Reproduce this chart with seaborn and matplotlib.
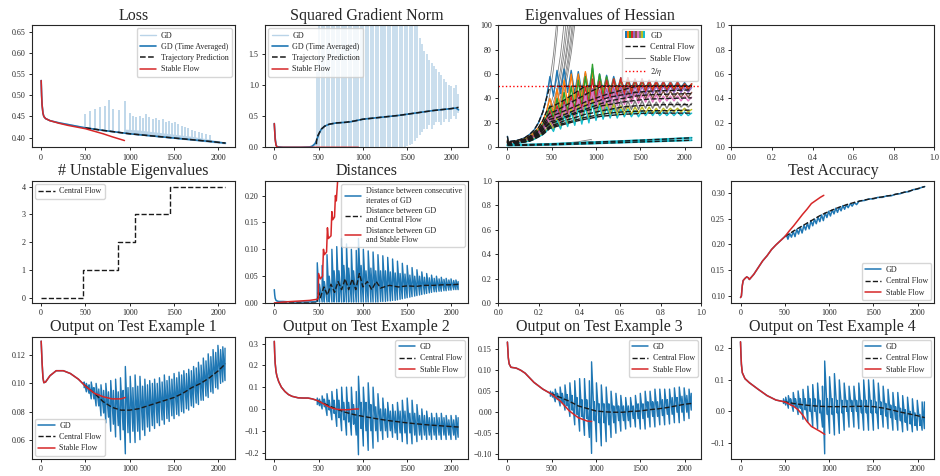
import matplotlib
matplotlib.use("Agg")
import matplotlib.pyplot as plt
import seaborn as sns
from matplotlib.legend_handler import HandlerBase
from matplotlib.patches import Rectangle
from matplotlib.lines import Line2D

# ----------------------------------------------------------------- data
STEPS = [485, 510, 540, 565, 595, 620, 650, 675, 705, 730, 760, 785, 815, 840, 870, 895, 925, 950, 980, 1005,
         1035, 1060, 1090, 1115, 1145, 1170, 1200, 1225, 1255, 1280, 1310, 1335, 1365, 1390, 1420, 1445, 1475, 1500, 1530, 1555,
         1585, 1610, 1640, 1665, 1695, 1720, 1750, 1775, 1805, 1830, 1860, 1885, 1915, 1940, 1970, 1995, 2025, 2050, 2075]

# Loss
loss_gd_x = [0, 5, 10, 20, 30, 50, 100, 200, 300, 400, 500, 700, 1000, 1300, 1600, 1900, 2080]
loss_gd_y = [0.535, 0.50, 0.478, 0.458, 0.450, 0.445, 0.440, 0.435, 0.431, 0.427, 0.423, 0.417, 0.409, 0.403, 0.396, 0.390, 0.386]
loss_avg_y = [0.535, 0.50, 0.478, 0.458, 0.450, 0.445, 0.440, 0.435, 0.431, 0.427, 0.423, 0.417, 0.409, 0.403, 0.397, 0.391, 0.387]
loss_traj_x = [500, 700, 1000, 1300, 1600, 1900, 2080]
loss_traj_y = [0.423, 0.417, 0.409, 0.403, 0.397, 0.391, 0.387]
loss_sf_x = [0, 5, 10, 20, 30, 50, 100, 200, 300, 400, 500, 600, 700, 800, 940]
loss_sf_y = [0.535, 0.50, 0.478, 0.458, 0.450, 0.445, 0.440, 0.434, 0.429, 0.425, 0.421, 0.415, 0.409, 0.402, 0.393]
loss_spike_x = [498, 547, 603, 659, 715, 760, 816, 873, 948, 1004, 1040, 1075, 1110, 1150, 1185, 1220, 1260, 1295, 1330, 1370,
                1405, 1440, 1480, 1515, 1550, 1590, 1625, 1660, 1700, 1740, 1780, 1820, 1860, 1900]
loss_spike_hi = [0.457, 0.464, 0.468, 0.472, 0.474, 0.488, 0.467, 0.466, 0.486, 0.459, 0.452, 0.448, 0.452, 0.447, 0.455, 0.449, 0.445, 0.447, 0.441, 0.443,
                 0.438, 0.440, 0.434, 0.437, 0.431, 0.428, 0.424, 0.422, 0.419, 0.416, 0.413, 0.411, 0.408, 0.405]
loss_spike_lo = [0.423, 0.421, 0.420, 0.418, 0.417, 0.416, 0.414, 0.413, 0.411, 0.409, 0.408, 0.407, 0.406, 0.405, 0.405, 0.404, 0.403, 0.402, 0.402, 0.401,
                 0.400, 0.399, 0.399, 0.398, 0.397, 0.396, 0.396, 0.395, 0.394, 0.393, 0.393, 0.392, 0.391, 0.390]
loss_band_x = [950, 1100, 1300, 1500, 1700, 1900, 2080]
loss_band_lo = [0.409, 0.406, 0.402, 0.398, 0.394, 0.389, 0.385]
loss_band_hi = [0.420, 0.418, 0.413, 0.408, 0.403, 0.396, 0.389]

# Squared gradient norm
gn_gd_x = [0, 5, 10, 20, 30, 50, 300, 400, 450, 485]
gn_gd_y = [0.38, 0.25, 0.12, 0.04, 0.01, 0.0, 0.0, 0.003, 0.02, 0.06]
gn_hi = [1.2, 2.5, 2.5, 2.5, 2.5, 2.5, 2.5, 2.5, 2.5, 2.5, 2.5, 2.5, 2.5, 2.5, 2.5, 2.5, 2.5, 2.5, 2.5, 2.5,
         2.5, 2.5, 2.5, 2.5, 2.5, 2.5, 2.5, 2.5, 2.5, 2.5, 2.5, 2.5, 2.5, 2.5, 2.5, 2.5, 2.5, 2.5, 2.5, 2.5,
         2.5, 2.5, 1.75, 1.65, 1.55, 1.5, 1.4, 1.35, 1.3, 1.25, 1.2, 1.15, 1.1, 1.05, 1.0, 0.98, 0.95, 1.0, 0.85]
gn_lo = [0, 0, 0, 0, 0, 0, 0, 0, 0, 0, 0, 0, 0, 0, 0, 0, 0, 0, 0, 0,
         0, 0, 0, 0, 0, 0, 0, 0, 0, 0, 0, 0, 0, 0, 0, 0, 0, 0.02, 0.04, 0.06,
         0.1, 0.15, 0.2, 0.25, 0.3, 0.3, 0.35, 0.3, 0.35, 0.4, 0.4, 0.35, 0.4, 0.45, 0.4, 0.45, 0.5, 0.45, 0.55]
gn_avg_x = [0, 10, 20, 30, 100, 300, 400, 430, 460, 480, 500, 530, 570, 620, 700, 800, 850, 900, 1000, 1200, 1400, 1600, 1800, 2000, 2050, 2080]
gn_avg_y = [0.38, 0.15, 0.04, 0.01, 0.0, 0.0, 0.005, 0.02, 0.06, 0.12, 0.2, 0.29, 0.34, 0.37, 0.39, 0.40, 0.405, 0.42, 0.45, 0.48, 0.51, 0.55, 0.59, 0.62, 0.63, 0.60]
gn_traj_x = [475, 480, 500, 530, 570, 620, 700, 800, 850, 900, 1000, 1200, 1400, 1600, 1800, 2000, 2080]
gn_traj_y = [0.05, 0.15, 0.21, 0.29, 0.34, 0.37, 0.39, 0.40, 0.41, 0.42, 0.45, 0.48, 0.51, 0.55, 0.59, 0.62, 0.64]
gn_sf_x = [0, 5, 10, 20, 30, 50, 950]
gn_sf_y = [0.38, 0.25, 0.12, 0.03, 0.008, 0.0, 0.0]

# Eigenvalues of Hessian
eig_pre_x = [0, 10, 50, 100, 150, 200, 250, 300, 350, 400]
eig_zz_x = [440, 480, 520, 560, 600, 640, 680, 720, 760, 800, 840, 880, 920, 960, 1000, 1040, 1080, 1120, 1160, 1200, 1240,
            1280, 1320, 1360, 1400, 1440, 1480, 1520, 1560, 1600, 1640, 1680, 1720, 1760, 1800, 1840, 1880, 1920, 1960, 2000, 2040, 2080]
eig_pre = [
    [9, 4.5, 5, 5.5, 6.5, 8, 10.5, 14, 20, 29],
    [6, 4, 4.5, 5, 6, 7, 9, 12, 16, 22],
    [5, 3.5, 4, 4.5, 5.5, 6.5, 8, 10.5, 14, 19],
    [5, 3.5, 4, 4.5, 5, 6, 7.5, 10, 13, 17],
    [4.5, 3, 3.5, 4, 5, 5.5, 7, 9, 12, 16],
    [4.5, 3, 3.5, 4, 4.5, 5.5, 6.5, 8.5, 11, 14.5],
    [4, 3, 3.2, 3.8, 4.5, 5, 6, 8, 10.5, 14],
    [4, 2.8, 3, 3.5, 4, 5, 6, 7.5, 10, 12.5],
    [3.5, 2.5, 3, 3.5, 4, 4.5, 5.5, 7, 9, 11.5],
    [3.5, 2.5, 2.8, 3.2, 3.8, 4.5, 5, 6.5, 8.5, 10.5],
]
eig_zz = [
    [40, 58, 42, 63, 44, 64, 45, 63, 44, 62, 45, 61, 46, 65, 44, 60, 46, 59, 46, 58, 47, 57, 47, 57, 48, 56, 48, 56, 48, 55, 48, 55, 49, 54, 49, 54, 49, 54, 49, 53, 49, 52],
    [29, 40, 28, 48, 30, 55, 35, 60, 38, 60, 40, 62, 42, 62, 43, 58, 45, 57, 45, 56, 46, 56, 46, 55, 47, 55, 47, 55, 47, 54, 48, 54, 48, 53, 48, 53, 48, 53, 48, 52, 48, 52],
    [25, 34, 24, 40, 27, 45, 29, 50, 31, 55, 34, 58, 36, 68, 38, 60, 42, 58, 43, 56, 44, 55, 45, 55, 45, 54, 46, 54, 46, 53, 46, 53, 47, 53, 47, 52, 47, 52, 47, 52, 47, 51],
    [22, 30, 21, 34, 24, 38, 26, 42, 29, 46, 31, 50, 33, 56, 36, 54, 38, 55, 40, 56, 42, 57, 43, 57, 44, 56, 45, 56, 45, 55, 46, 54, 46, 54, 46, 53, 46, 53, 47, 52, 47, 52],
    [20, 27, 19, 31, 22, 35, 24, 38, 26, 41, 28, 44, 30, 48, 33, 47, 35, 48, 37, 49, 39, 50, 40, 50, 41, 50, 42, 50, 43, 50, 44, 50, 44, 50, 45, 50, 45, 49, 45, 49, 45, 49],
    [18, 25, 17, 28, 20, 32, 22, 35, 24, 38, 26, 40, 28, 44, 30, 43, 32, 44, 34, 45, 36, 46, 37, 46, 38, 46, 39, 46, 40, 46, 40, 46, 41, 46, 41, 46, 41, 45, 41, 45, 41, 45],
    [17, 24, 16, 28, 19, 33, 21, 37, 23, 40, 25, 42, 27, 46, 29, 44, 31, 44, 32, 44, 34, 44, 35, 44, 36, 44, 36, 43, 37, 43, 37, 43, 37, 42, 38, 42, 38, 42, 38, 42, 38, 41],
    [15, 21, 15, 25, 17, 28, 19, 31, 21, 34, 22, 36, 24, 39, 26, 38, 27, 38, 28, 38, 29, 38, 30, 38, 31, 38, 31, 38, 32, 38, 32, 37, 32, 37, 32, 37, 33, 37, 33, 36, 33, 36],
    [14, 20, 14, 24, 16, 28, 18, 32, 19, 35, 21, 37, 22, 40, 24, 37, 25, 36, 26, 35, 26, 34, 27, 34, 27, 33, 28, 33, 28, 33, 28, 32, 28, 32, 29, 32, 29, 32, 29, 32, 29, 31],
    [13, 18, 13, 22, 15, 26, 17, 29, 18, 32, 19, 33, 20, 36, 22, 34, 23, 33, 24, 32, 24, 31, 25, 31, 25, 30, 25, 30, 26, 30, 26, 30, 26, 29, 26, 29, 26, 29, 26, 29, 26, 28],
]
cf_post_x = [480, 550, 650, 750, 875, 950, 1065, 1150, 1300, 1450, 1600, 1800, 2080]
cf_post = [
    [50, 50, 50, 50, 50, 50, 50, 50, 50, 50, 50, 50, 50],
    [33, 35, 39, 44, 50, 50, 50, 50, 50, 50, 50, 50, 50],
    [28, 30, 34, 38, 43, 46, 50, 50, 50, 50, 50, 50, 50],
    [25, 27, 30, 33, 37, 39, 42, 44, 47, 50, 50, 50, 50],
    [23, 24, 27, 30, 34, 36, 39, 41, 43, 45, 46, 46.5, 47],
    [21, 22, 25, 28, 31, 33, 36, 38, 40, 42, 43, 43.5, 44],
    [19.5, 21, 24, 27, 30, 31, 34, 35, 37, 38.5, 39.5, 40, 40.5],
    [17.5, 19, 22, 24, 27, 28, 30, 31, 33, 34, 34.5, 35, 35],
    [16.5, 18, 20, 22, 24.5, 25.5, 27, 28, 29, 29.5, 30, 30, 30.5],
    [15.5, 17, 19, 21, 23, 24, 25.5, 26, 27, 27.5, 28, 28, 28],
]
sf_post_x = [480, 520, 560, 600, 640, 680, 720, 760, 800, 840]
sf_post = [
    [55, 76, 105, 140, 180, 230, 280, 330, 380, 430],
    [44, 64, 92, 128, 170, 220, 270, 320, 370, 420],
    [33, 43, 57, 76, 102, 135, 175, 220, 270, 320],
    [29, 37, 48, 64, 86, 115, 150, 190, 235, 285],
    [26, 33, 43, 57, 76, 100, 130, 165, 205, 250],
    [23, 29, 38, 50, 66, 87, 114, 148, 188, 230],
    [22, 28, 36, 47, 62, 81, 105, 136, 172, 215],
    [19, 24, 31, 41, 54, 71, 93, 121, 156, 197],
    [17.5, 22, 29, 38, 50, 65, 85, 110, 142, 180],
    [16, 20, 26, 34, 45, 59, 77, 100, 129, 165],
]
eig_low_x = [0, 250, 500, 750, 1000, 1250, 1500, 1750, 2080]
eig_low1 = [2.0, 2.3, 2.8, 3.5, 4.3, 5.0, 5.8, 6.6, 7.8]
eig_low2 = [1.5, 1.7, 2.1, 2.6, 3.2, 3.8, 4.4, 5.0, 5.8]
sf_low_x = [0, 250, 500, 650, 800, 950]
sf_low1 = [2.0, 2.3, 2.8, 3.5, 4.6, 6.5]
sf_low2 = [1.5, 1.7, 2.1, 2.7, 3.6, 5.0]
two_over_eta = 50

# Unstable eigenvalues
unst_x = [0, 467, 871, 1060, 1450, 2075]
unst_y = [0, 1, 2, 3, 4, 4]

# Distances
dist_gd_x = [0, 5, 10, 20, 30, 50, 100, 200, 300, 400, 480]
dist_gd_y = [0.025, 0.015, 0.009, 0.005, 0.004, 0.003, 0.003, 0.002, 0.002, 0.002, 0.003]
dist_hi = [0.075, 0.035, 0.07, 0.04, 0.09, 0.05, 0.10, 0.06, 0.105, 0.06, 0.12, 0.07, 0.11, 0.065, 0.10, 0.06, 0.098, 0.12, 0.07, 0.10,
           0.06, 0.097, 0.065, 0.095, 0.06, 0.09, 0.06, 0.088, 0.06, 0.085, 0.058, 0.082, 0.056, 0.078, 0.055, 0.074, 0.054, 0.07, 0.052, 0.066,
           0.05, 0.062, 0.05, 0.058, 0.048, 0.055, 0.047, 0.052, 0.046, 0.05, 0.045, 0.048, 0.044, 0.046, 0.043, 0.045, 0.042, 0.043, 0.04]
dist_lo = [0.003, 0.002, 0.002, 0.002, 0.002, 0.002, 0.002, 0.002, 0.002, 0.002, 0.002, 0.002, 0.002, 0.002, 0.002, 0.002, 0.002, 0.002, 0.002, 0.002,
           0.002, 0.002, 0.002, 0.002, 0.002, 0.002, 0.003, 0.003, 0.003, 0.004, 0.004, 0.005, 0.005, 0.006, 0.007, 0.008, 0.009, 0.010, 0.011, 0.012,
           0.013, 0.014, 0.015, 0.016, 0.017, 0.018, 0.019, 0.020, 0.021, 0.021, 0.022, 0.022, 0.023, 0.023, 0.024, 0.024, 0.025, 0.025, 0.025]
dist_cf_x = [0, 480, 500, 520, 560, 600, 640, 680, 720, 760, 800, 840, 880, 920, 960, 1000, 1050, 1100, 1150, 1200, 1300, 1400, 1500, 1600, 1700, 1800, 1900, 2000, 2080]
dist_cf_y = [0, 0.0, 0.02, 0.01, 0.03, 0.015, 0.035, 0.02, 0.04, 0.025, 0.045, 0.025, 0.045, 0.025, 0.055, 0.03, 0.04, 0.025, 0.04, 0.028, 0.033, 0.03, 0.032, 0.031, 0.033, 0.033, 0.034, 0.034, 0.035]
dist_sf_x = [0, 100, 200, 300, 400, 480, 495, 500, 520, 545, 555, 565, 590, 600, 610, 640, 650, 660, 680, 690, 700, 720]
dist_sf_y = [0.0, 0.002, 0.003, 0.004, 0.005, 0.007, 0.008, 0.055, 0.045, 0.05, 0.10, 0.09, 0.095, 0.14, 0.12, 0.125, 0.17, 0.155, 0.16, 0.20, 0.19, 0.24]

# Test accuracy
acc_sf_x = [0, 10, 20, 30, 50, 70, 90, 100, 120, 150, 200, 250, 300, 350, 400, 450, 500, 550, 600, 650, 700, 750, 800, 850, 900, 940]
acc_sf_y = [0.097, 0.100, 0.120, 0.130, 0.134, 0.137, 0.135, 0.132, 0.136, 0.142, 0.155, 0.168, 0.178, 0.190, 0.199, 0.207, 0.215,
            0.226, 0.236, 0.247, 0.258, 0.268, 0.279, 0.285, 0.291, 0.295]
acc_gd_x = [0, 10, 20, 30, 50, 70, 90, 100, 120, 150, 200, 250, 300, 350, 400, 450, 500,
            520, 535, 555, 575, 595, 615, 635, 655, 675, 695, 715, 735, 755, 775, 795, 815, 835, 855, 875, 895,
            915, 935, 955, 975, 995, 1015, 1035, 1055, 1075, 1095, 1115, 1135, 1155, 1175, 1195, 1215, 1240, 1260, 1285, 1310,
            1340, 1400, 1450, 1500, 1550, 1600, 1650, 1700, 1750, 1800, 1850, 1900, 1950, 2000, 2040, 2080]
acc_gd_y = [0.097, 0.100, 0.120, 0.130, 0.134, 0.137, 0.135, 0.132, 0.136, 0.142, 0.155, 0.168, 0.178, 0.190, 0.199, 0.207, 0.215,
            0.218, 0.210, 0.221, 0.214, 0.225, 0.215, 0.229, 0.220, 0.233, 0.222, 0.237, 0.228, 0.241, 0.230, 0.246, 0.236, 0.249, 0.240, 0.253, 0.244,
            0.257, 0.246, 0.261, 0.252, 0.264, 0.255, 0.267, 0.259, 0.270, 0.262, 0.272, 0.265, 0.275, 0.268, 0.277, 0.271, 0.279, 0.274, 0.281, 0.277,
            0.284, 0.285, 0.288, 0.288, 0.291, 0.291, 0.294, 0.294, 0.297, 0.298, 0.301, 0.302, 0.306, 0.307, 0.310, 0.312]
acc_cf_x = [500, 600, 700, 800, 900, 1000, 1100, 1200, 1300, 1400, 1500, 1600, 1700, 1800, 1900, 2000, 2080]
acc_cf_y = [0.215, 0.226, 0.236, 0.246, 0.256, 0.264, 0.271, 0.277, 0.282, 0.286, 0.289, 0.292, 0.295, 0.299, 0.303, 0.308, 0.312]

# Outputs on test examples
cf_x = [485, 600, 700, 800, 900, 1000, 1100, 1200, 1300, 1400, 1500, 1600, 1700, 1800, 1900, 2000, 2080]
t1_sf_x = [0, 10, 20, 30, 50, 100, 170, 250, 330, 420, 500, 600, 700, 800, 900, 950]
t1_sf_y = [0.130, 0.115, 0.104, 0.1005, 0.101, 0.1055, 0.109, 0.109, 0.107, 0.103, 0.098, 0.093, 0.0905, 0.089, 0.089, 0.090]
t1_cf_y = [0.099, 0.093, 0.087, 0.083, 0.081, 0.081, 0.082, 0.084, 0.086, 0.088, 0.090, 0.093, 0.097, 0.100, 0.104, 0.109, 0.114]
t1_hi = [0.101, 0.100, 0.099, 0.101, 0.097, 0.100, 0.096, 0.099, 0.095, 0.100, 0.094, 0.102, 0.095, 0.103, 0.094, 0.104, 0.095, 0.112, 0.097, 0.105,
         0.097, 0.106, 0.098, 0.105, 0.098, 0.103, 0.099, 0.102, 0.100, 0.103, 0.100, 0.104, 0.101, 0.106, 0.102, 0.105, 0.103, 0.107, 0.104, 0.108,
         0.106, 0.109, 0.107, 0.110, 0.109, 0.112, 0.111, 0.115, 0.113, 0.118, 0.116, 0.121, 0.119, 0.124, 0.122, 0.127, 0.124, 0.126, 0.125]
t1_lo = [0.097, 0.094, 0.093, 0.089, 0.089, 0.084, 0.084, 0.077, 0.079, 0.072, 0.076, 0.066, 0.071, 0.062, 0.070, 0.060, 0.067, 0.050, 0.065, 0.058,
         0.066, 0.058, 0.066, 0.060, 0.067, 0.063, 0.069, 0.066, 0.070, 0.068, 0.072, 0.070, 0.074, 0.071, 0.075, 0.073, 0.077, 0.075, 0.078, 0.077,
         0.080, 0.079, 0.082, 0.081, 0.084, 0.083, 0.086, 0.085, 0.088, 0.088, 0.091, 0.090, 0.094, 0.093, 0.097, 0.096, 0.100, 0.101, 0.102]

t2_sf_x = [0, 5, 10, 20, 30, 50, 80, 120, 160, 200, 270, 330, 380, 430, 490, 550, 600, 650, 700, 750, 800, 850, 900, 950]
t2_sf_y = [0.31, 0.25, 0.21, 0.17, 0.15, 0.125, 0.10, 0.08, 0.066, 0.058, 0.051, 0.05, 0.05, 0.046, 0.038, 0.025, 0.013, 0.004, -0.001, -0.003, -0.004, -0.003, -0.001, 0.0]
t2_cf_y = [0.038, 0.018, 0.0, -0.015, -0.026, -0.034, -0.041, -0.048, -0.054, -0.059, -0.064, -0.068, -0.072, -0.075, -0.078, -0.081, -0.083]
t2_hi = [0.05, 0.045, 0.06, 0.045, 0.07, 0.04, 0.08, 0.04, 0.09, 0.04, 0.10, 0.03, 0.10, 0.03, 0.10, 0.02, 0.08, 0.15, 0.03, 0.10,
         0.03, 0.12, 0.02, 0.10, 0.01, 0.07, 0.0, 0.05, 0.0, 0.03, -0.01, 0.02, -0.01, 0.03, -0.01, 0.04, -0.01, 0.05, -0.02, 0.04,
         -0.02, 0.02, -0.03, 0.0, -0.03, -0.01, -0.04, -0.02, -0.04, -0.02, -0.04, -0.02, -0.04, -0.03, -0.05, -0.03, -0.05, -0.03, -0.04]
t2_lo = [0.02, 0.015, 0.0, 0.01, -0.03, -0.005, -0.05, -0.02, -0.08, -0.04, -0.10, -0.05, -0.12, -0.06, -0.12, -0.07, -0.12, -0.21, -0.09, -0.17,
         -0.10, -0.19, -0.10, -0.18, -0.10, -0.15, -0.10, -0.14, -0.10, -0.13, -0.10, -0.13, -0.11, -0.14, -0.11, -0.15, -0.11, -0.16, -0.11, -0.16,
         -0.12, -0.15, -0.12, -0.14, -0.12, -0.14, -0.12, -0.14, -0.12, -0.14, -0.12, -0.14, -0.12, -0.14, -0.12, -0.14, -0.12, -0.14, -0.13]

t3_sf_x = [0, 5, 10, 20, 40, 100, 150, 200, 300, 400, 500, 600, 700, 800, 900, 950]
t3_sf_y = [0.167, 0.15, 0.13, 0.115, 0.107, 0.105, 0.100, 0.093, 0.071, 0.055, 0.043, 0.026, 0.003, -0.013, -0.021, -0.022]
t3_cf_y = [0.045, 0.035, 0.026, 0.015, 0.009, 0.003, 0.001, 0.0, 0.0, 0.002, 0.003, 0.006, 0.008, 0.011, 0.015, 0.019, 0.021]
t3_hi = [0.05, 0.048, 0.055, 0.045, 0.06, 0.045, 0.065, 0.042, 0.07, 0.04, 0.075, 0.035, 0.08, 0.03, 0.08, 0.03, 0.075, 0.12, 0.025, 0.07,
         0.02, 0.065, 0.02, 0.06, 0.02, 0.05, 0.015, 0.045, 0.015, 0.04, 0.015, 0.035, 0.015, 0.035, 0.015, 0.04, 0.02, 0.045, 0.02, 0.05,
         0.025, 0.05, 0.025, 0.055, 0.025, 0.055, 0.03, 0.055, 0.03, 0.055, 0.035, 0.058, 0.035, 0.06, 0.038, 0.058, 0.04, 0.055, 0.045]
t3_lo = [0.038, 0.036, 0.025, 0.030, 0.015, 0.022, 0.005, 0.015, -0.01, 0.005, -0.03, -0.005, -0.045, -0.01, -0.055, -0.015, -0.06, -0.098, -0.02, -0.07,
         -0.025, -0.08, -0.025, -0.07, -0.03, -0.06, -0.025, -0.05, -0.02, -0.045, -0.02, -0.04, -0.02, -0.035, -0.015, -0.035, -0.015, -0.04, -0.015, -0.04,
         -0.012, -0.035, -0.01, -0.035, -0.01, -0.03, -0.008, -0.03, -0.005, -0.028, -0.005, -0.025, 0.0, -0.025, 0.0, -0.02, 0.0, -0.015, 0.005]

t4_sf_x = [0, 5, 10, 20, 50, 100, 200, 300, 400, 500, 600, 650, 700, 750, 800, 900, 950]
t4_sf_y = [0.221, 0.18, 0.15, 0.123, 0.104, 0.091, 0.070, 0.050, 0.036, 0.030, 0.016, 0.005, -0.011, -0.032, -0.048, -0.064, -0.073]
t4_cf_y = [0.031, 0.025, 0.021, 0.018, 0.016, 0.015, 0.015, 0.015, 0.016, 0.016, 0.015, 0.011, 0.005, -0.002, -0.008, -0.014, -0.020]
t4_hi = [0.04, 0.045, 0.05, 0.04, 0.06, 0.04, 0.065, 0.04, 0.07, 0.04, 0.08, 0.04, 0.085, 0.04, 0.09, 0.035, 0.08, 0.16, 0.04, 0.11,
         0.04, 0.12, 0.035, 0.10, 0.035, 0.09, 0.035, 0.08, 0.035, 0.08, 0.035, 0.09, 0.035, 0.10, 0.035, 0.10, 0.035, 0.10, 0.03, 0.09,
         0.03, 0.08, 0.025, 0.07, 0.02, 0.06, 0.015, 0.06, 0.01, 0.05, 0.005, 0.045, 0.0, 0.04, -0.005, 0.035, -0.01, 0.03, 0.03]
t4_lo = [0.025, 0.02, 0.01, 0.02, 0.0, 0.015, -0.01, 0.01, -0.025, 0.005, -0.035, 0.0, -0.05, 0.0, -0.055, -0.005, -0.05, -0.135, -0.01, -0.07,
         -0.01, -0.075, -0.005, -0.07, -0.005, -0.06, 0.0, -0.05, 0.0, -0.05, 0.0, -0.055, -0.005, -0.06, -0.005, -0.06, -0.005, -0.06, -0.005, -0.055,
         -0.01, -0.05, -0.015, -0.055, -0.02, -0.06, -0.025, -0.06, -0.03, -0.065, -0.035, -0.06, -0.04, -0.065, -0.045, -0.06, -0.045, -0.06, -0.055]

# ----------------------------------------------------------------- style
sns.set_theme(style="ticks")
plt.rcParams.update({
    "font.family": ["Liberation Serif", "DejaVu Serif"],
    "mathtext.fontset": "stix",
    "axes.titlesize": 11.5,
    "axes.titlepad": 4,
    "xtick.labelsize": 5.8, "ytick.labelsize": 5.8,
    "legend.fontsize": 5.8,
    "axes.linewidth": 0.8,
    "axes.edgecolor": "0.15",
    "xtick.major.size": 2.5, "ytick.major.size": 2.5,
    "xtick.major.width": 0.7, "ytick.major.width": 0.7,
    "xtick.major.pad": 2.0, "ytick.major.pad": 2.0,
    "legend.frameon": True, "legend.framealpha": 0.8, "legend.edgecolor": "0.8",
    "legend.fancybox": True, "legend.borderpad": 0.4, "legend.labelspacing": 0.4,
    "legend.handletextpad": 0.6, "legend.borderaxespad": 0.4,
})

BLUE, RED, LIGHT = "tab:blue", "tab:red", "#bad4e8"
TAB10 = sns.color_palette("tab10", 10)
XLIM = (-104, 2188)


def line(ax, x, y, **kw):
    sns.lineplot(x=x, y=y, ax=ax, estimator=None, sort=False, legend=False, **kw)


def sawtooth(steps, lo, hi):
    """Pair each oscillation step with its low and high reading."""
    xs, ys = [], []
    for s, a, b in zip(steps, lo, hi):
        xs += [s, s]
        ys += [a, b]
    return xs, ys


class StripeHandler(HandlerBase):
    def __init__(self, colors):
        super().__init__()
        self.colors = colors

    def create_artists(self, legend, orig_handle, xdescent, ydescent, width, height, fontsize, trans):
        n = len(self.colors)
        w = width / n
        return [Rectangle((-xdescent + i * w, -ydescent), w, height, facecolor=c, edgecolor="none",
                          transform=trans) for i, c in enumerate(self.colors)]


fig, axes = plt.subplots(3, 4, figsize=(9.4, 4.76), dpi=100)
fig.subplots_adjust(left=0.034, right=0.994, top=0.947, bottom=0.036, wspace=0.148, hspace=0.276)

# --- Loss
ax = axes[0, 0]
line(ax, loss_gd_x, loss_gd_y, color=LIGHT, linewidth=1.0, label="GD")
ax.fill_between(loss_band_x, loss_band_lo, loss_band_hi, color=LIGHT, linewidth=0)
ax.vlines(loss_spike_x, loss_spike_lo, loss_spike_hi, color=LIGHT, linewidth=1.3)
line(ax, loss_gd_x, loss_avg_y, color=BLUE, linewidth=1.2, label="GD (Time Averaged)")
line(ax, loss_traj_x, loss_traj_y, color="k", linestyle="--", linewidth=1.1, label="Trajectory Prediction")
line(ax, loss_sf_x, loss_sf_y, color=RED, linewidth=1.1, label="Stable Flow")
ax.set_ylim(0.377, 0.666)
ax.set_title("Loss")
ax.legend(loc="upper right")

# --- Squared gradient norm
ax = axes[0, 1]
line(ax, gn_gd_x, gn_gd_y, color=LIGHT, linewidth=1.0, label="GD")
ax.vlines(STEPS, gn_lo, gn_hi, color=LIGHT, linewidth=1.1)
line(ax, gn_avg_x, gn_avg_y, color=BLUE, linewidth=1.2, label="GD (Time Averaged)")
line(ax, gn_traj_x, gn_traj_y, color="k", linestyle="--", linewidth=1.1, label="Trajectory Prediction")
line(ax, gn_sf_x, gn_sf_y, color=RED, linewidth=1.1, label="Stable Flow")
ax.set_ylim(0, 1.955)
ax.set_title("Squared Gradient Norm")
ax.legend(loc="upper left")

# --- Eigenvalues
ax = axes[0, 2]
for i in range(10):
    line(ax, eig_pre_x + [440] + sf_post_x, eig_pre[i] + [eig_zz[i][0]] + sf_post[i],
         color="0.5", linewidth=0.6)
line(ax, sf_low_x, sf_low1, color="0.5", linewidth=0.6)
line(ax, sf_low_x, sf_low2, color="0.5", linewidth=0.6)
for i in range(10):
    line(ax, eig_pre_x + eig_zz_x, eig_pre[i] + eig_zz[i], color=TAB10[i], linewidth=1.0)
line(ax, eig_low_x, eig_low1, color=TAB10[9], linewidth=1.4)
line(ax, eig_low_x, eig_low2, color=TAB10[9], linewidth=1.4)
for i in range(10):
    line(ax, eig_pre_x + [440] + cf_post_x, eig_pre[i] + [eig_zz[i][0]] + cf_post[i],
         color="k", linestyle="--", linewidth=1.0)
line(ax, eig_low_x, eig_low1, color="k", linestyle="--", linewidth=1.0)
line(ax, eig_low_x, eig_low2, color="k", linestyle="--", linewidth=1.0)
ax.axhline(two_over_eta, color="red", linestyle=":", linewidth=1.0)
ax.set_ylim(0, 100)
ax.set_title("Eigenvalues of Hessian")
gd_proxy = Rectangle((0, 0), 1, 1)
ax.legend(handles=[gd_proxy,
                   Line2D([], [], color="k", linestyle="--", linewidth=1.0),
                   Line2D([], [], color="0.5", linewidth=0.8),
                   Line2D([], [], color="red", linestyle=":", linewidth=1.0)],
          labels=["GD", "Central Flow", "Stable Flow", r"$2/\eta$"],
          handler_map={gd_proxy: StripeHandler(TAB10)}, loc="upper right",
          fontsize=6.0, handlelength=2.5, handleheight=0.9, labelspacing=0.4, borderpad=0.35)

# --- Unstable eigenvalues
ax = axes[1, 0]
line(ax, unst_x, unst_y, color="k", linestyle="--", linewidth=1.0, drawstyle="steps-post", label="Central Flow")
ax.set_ylim(-0.2, 4.2)
ax.set_yticks([0, 1, 2, 3, 4])
ax.set_title("# Unstable Eigenvalues")
ax.legend(loc="upper left")

# --- Distances
ax = axes[1, 1]
line(ax, dist_gd_x, dist_gd_y, color=BLUE, linewidth=1.1, label="Distance between consecutive\niterates of GD")
dx, dy = sawtooth(STEPS, dist_lo, dist_hi)
line(ax, dx, dy, color=BLUE, linewidth=1.0)
line(ax, dist_cf_x, dist_cf_y, color="k", linestyle="--", linewidth=1.0, label="Distance between GD\nand Central Flow")
line(ax, dist_sf_x, dist_sf_y, color=RED, linewidth=1.1, label="Distance between GD\nand Stable Flow")
ax.set_ylim(0, 0.227)
ax.set_title("Distances")
ax.legend(loc="upper right", labelspacing=0.3)

# --- Empty panels
axes[0, 3].set_xlim(0, 1)
axes[0, 3].set_ylim(0, 1)
axes[1, 2].set_xlim(0, 1)
axes[1, 2].set_ylim(0, 1)

# --- Test accuracy
ax = axes[1, 3]
line(ax, acc_gd_x, acc_gd_y, color=BLUE, linewidth=1.1, label="GD")
line(ax, acc_cf_x, acc_cf_y, color="k", linestyle="--", linewidth=1.0, label="Central Flow")
line(ax, acc_sf_x, acc_sf_y, color=RED, linewidth=1.1, label="Stable Flow")
ax.set_ylim(0.0863, 0.3227)
ax.set_title("Test Accuracy")
ax.legend(loc="lower right")

# --- Test examples
tests = [
    (t1_sf_x, t1_sf_y, t1_cf_y, t1_lo, t1_hi, (0.0464, 0.1331), "lower left"),
    (t2_sf_x, t2_sf_y, t2_cf_y, t2_lo, t2_hi, (-0.229, 0.331), "upper right"),
    (t3_sf_x, t3_sf_y, t3_cf_y, t3_lo, t3_hi, (-0.111, 0.1796), "upper right"),
    (t4_sf_x, t4_sf_y, t4_cf_y, t4_lo, t4_hi, (-0.151, 0.237), "upper right"),
]
for j, (sx, sy, cy, lo, hi, ylim, loc) in enumerate(tests):
    ax = axes[2, j]
    gx = [v for v in sx if v <= 500]
    gy = sy[:len(gx)]
    line(ax, gx, gy, color=BLUE, linewidth=1.1, label="GD")
    zx, zy = sawtooth(STEPS, lo, hi)
    line(ax, zx, zy, color=BLUE, linewidth=1.0)
    line(ax, cf_x, cy, color="k", linestyle="--", linewidth=1.0, label="Central Flow")
    line(ax, sx, sy, color=RED, linewidth=1.1, label="Stable Flow")
    ax.set_ylim(*ylim)
    ax.set_title(f"Output on Test Example {j + 1}")
    ax.legend(loc=loc)

for r in range(3):
    for c in range(4):
        ax = axes[r, c]
        ax.set_xlabel("")
        ax.set_ylabel("")
        if (r, c) not in [(0, 3), (1, 2)]:
            ax.set_xlim(*XLIM)
            ax.set_xticks([0, 500, 1000, 1500, 2000])

fig.savefig("out.png", dpi=100)
